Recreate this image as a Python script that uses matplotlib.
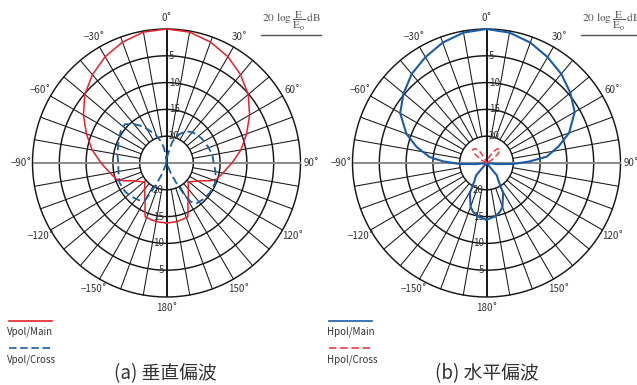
import numpy as np
import matplotlib
matplotlib.use("Agg")
import matplotlib.pyplot as plt
from matplotlib.lines import Line2D
from matplotlib.transforms import offset_copy

plt.rcParams["font.family"] = ["Noto Sans CJK JP", "DejaVu Sans"]
plt.rcParams["mathtext.fontset"] = "stix"

# ---- radiation patterns: angle (deg, clockwise from boresight) / attenuation (dB) ----
vpol_main_deg = [-180, -172, -166, -158.5, -156.5, -154.5, -152, -148, -144, -139, -131.5,
                 -126, -118, -112, -108, -100, -90, -80, -70, -60, -50, -40, -30, -20, -10,
                 0, 10, 20, 30, 40, 50, 60, 70, 80, 90, 100, 108, 112, 118, 126, 131.5,
                 139, 144, 148, 152, 154.5, 156.5, 158.5, 166, 172, 180]
vpol_main_db = [13.8, 13.9, 14.0, 14.2, 14.9, 15.7, 16.5, 17.3, 18.1, 18.8, 19.6,
                19.1, 17.9, 16.2, 15.2, 14.3, 12.8, 10.9, 9.1, 7.1, 5.1, 3.5, 2.1, 1.0, 0.2,
                0.0, 0.2, 1.0, 2.1, 3.5, 5.1, 7.1, 9.1, 10.9, 12.8, 14.3, 15.2, 16.2, 17.9, 19.1, 19.6,
                18.8, 18.1, 17.3, 16.5, 15.7, 14.9, 14.2, 14.0, 13.9, 13.8]

vpol_cross_deg = [-180, -161, -158, -155, -152, -150, -145, -135, -125, -113, -100, -90, -80,
                  -68, -60, -55, -47, -40, -35, -30, -25, -20, -15, -10, -5, 0,
                  5, 10, 15, 20, 25, 30, 37, 45, 55, 68, 80, 90, 100, 113, 125, 135,
                  143, 148, 151, 154, 157, 160, 180]
vpol_cross_db = [25, 25, 23, 21, 18.6, 17.0, 16.4, 16.0, 15.6, 15.5, 15.9, 16.0, 15.7,
                 15.3, 14.9, 14.6, 14.4, 15.5, 16.5, 17.6, 18.7, 19.6, 20.8, 22.0, 23.5, 25,
                 24, 23.2, 21.0, 19.8, 19.0, 18.2, 17.7, 17.3, 17.0, 16.7, 16.3, 16.2, 15.7, 15.2, 15.2, 15.4,
                 15.6, 16.5, 18.5, 21, 23, 25, 25]

hpol_main_deg = [-180, -171, -165, -160, -151, -146, -140, -135, -100, -96, -92, -88, -84,
                 -77, -70, -60, -50, -40, -30, -20, -10, 0, 10, 20, 30, 40, 50, 60, 70,
                 77, 84, 88, 92, 96, 100, 135, 140, 146, 151, 160, 165, 171, 180]
hpol_main_db = [14.4, 14.9, 15.5, 16.3, 18.6, 21, 22, 25, 25, 23, 20, 17, 14.3,
                11.6, 9.1, 6.4, 4.8, 3.3, 2.2, 1.1, 0.3, 0.0, 0.3, 1.1, 2.2, 3.3, 4.6, 6.0, 8.6,
                11.2, 13.7, 17, 20, 23, 25, 25, 22, 21, 18.6, 16.3, 15.5, 14.9, 14.4]

hpol_cross_deg = [-180, -70, -60, -52, -45, -38, -30, -22, -15, 0,
                  15, 22, 30, 38, 45, 52, 60, 70, 180]
hpol_cross_db = [25, 25, 23.8, 22.2, 21.4, 21.6, 22.6, 24, 25, 25,
                 25, 24, 22.6, 21.6, 21.5, 22.3, 23.8, 25, 25]

ring_levels = [0, 5, 10, 15, 20]
radial_labels = [5, 10, 15, 20]
angle_ticks = [0, 30, 60, 90, 120, 150, 180, -150, -120, -90, -60, -30]
db_floor = 25

RED = "#e8202a"
BLUE = "#1a5ca8"
RED_LIGHT = "#ec3b44"
INK = "#161616"
TEXT = "#333333"

W, H = 637, 385
R = 134
fig = plt.figure(figsize=(W / 100, H / 100), dpi=100)


def make_polar(cx, cy):
    ax = fig.add_axes([(cx - R) / W, (H - cy - R) / H, 2 * R / W, 2 * R / H],
                      projection="polar")
    ax.set_theta_zero_location("N")
    ax.set_theta_direction(-1)
    ax.set_ylim(-db_floor, 0)
    ax.axis("off")

    full = np.linspace(0, 2 * np.pi, 721)
    for d in ring_levels:
        ax.plot(full, np.full_like(full, -d), color=INK, lw=1.05, clip_on=False, zorder=1)
    for a in range(0, 360, 10):
        if a % 90:
            ax.plot([np.radians(a)] * 2, [-ring_levels[-1], 0], color=INK, lw=0.75,
                    clip_on=False, zorder=1)
    for a in (90, 270):
        ax.plot([np.radians(a)] * 2, [-db_floor, 0], color="#8a8a8a", lw=1.4,
                clip_on=False, zorder=2, solid_capstyle="butt")
    for a in (0, 180):
        ax.plot([np.radians(a)] * 2, [-db_floor, 0], color=INK, lw=1.4,
                clip_on=False, zorder=2, solid_capstyle="butt")

    for a in angle_ticks:
        lab = (f"\u2212{abs(a)}" if a < 0 else f"{a}") + "\u02da"
        ax.text(np.radians(a), 2.1, lab, ha="center", va="center",
                fontsize=7, color=TEXT)

    up = offset_copy(ax.transData, fig=fig, x=2.5, y=0, units="dots")
    down = offset_copy(ax.transData, fig=fig, x=-2.5, y=0, units="dots")
    for d in radial_labels:
        ax.text(0, -d, str(d), transform=up, ha="left", va="center",
                fontsize=7, color=TEXT, zorder=3)
        ax.text(np.pi, -d, str(d), transform=down, ha="right", va="center",
                fontsize=7, color=TEXT, zorder=3)

    # level unit note with underline
    fig.text((cx + 95) / W, 1 - 21 / H,
             r"$20\ \log\dfrac{\mathrm{E}}{\mathrm{E_o}}\,\mathrm{dB}$",
             ha="left", va="center", fontsize=8.2, color="#555555")
    fig.add_artist(Line2D([(cx + 94) / W, (cx + 154) / W], [1 - 35 / H] * 2,
                          color="#555555", lw=1.0))
    return ax


def pattern(ax, deg, db, **kw):
    ax.plot(np.radians(deg), -np.asarray(db, dtype=float), clip_on=False, zorder=4, **kw)


def legend(x0, items):
    for (label, color, dashed), (ly, ty) in zip(items, [(320.5, 332), (347.5, 360)]):
        ln = Line2D([(x0 + 9) / W, (x0 + 52) / W], [1 - ly / H] * 2, color=color, lw=1.2)
        if dashed:
            ln.set_dashes((4.5, 2.2))
        fig.add_artist(ln)
        fig.text((x0 + 7) / W, 1 - ty / H, label, ha="left", va="center",
                 fontsize=7, color=TEXT)


# (a) vertical polarisation
ax_a = make_polar(166.5, 163)
pattern(ax_a, vpol_main_deg, vpol_main_db, color=RED, lw=1.1)
pattern(ax_a, vpol_cross_deg, vpol_cross_db, color=BLUE, lw=1.3, dashes=(4.5, 2.2))
legend(0, [("Vpol/Main", RED, False), ("Vpol/Cross", BLUE, True)])
fig.text(165 / W, 11 / H, "(a) 垂直偏波", ha="center", va="center", fontsize=13.5, color=TEXT)

# (b) horizontal polarisation
ax_b = make_polar(486.5, 163)
pattern(ax_b, hpol_main_deg, hpol_main_db, color=BLUE, lw=1.5)
pattern(ax_b, hpol_cross_deg, hpol_cross_db, color=RED_LIGHT, lw=1.1, dashes=(4, 2))
legend(320, [("Hpol/Main", BLUE, False), ("Hpol/Cross", RED_LIGHT, True)])
fig.text(486.5 / W, 11 / H, "(b) 水平偏波", ha="center", va="center", fontsize=13.5, color=TEXT)

fig.savefig("out.png", dpi=100)
